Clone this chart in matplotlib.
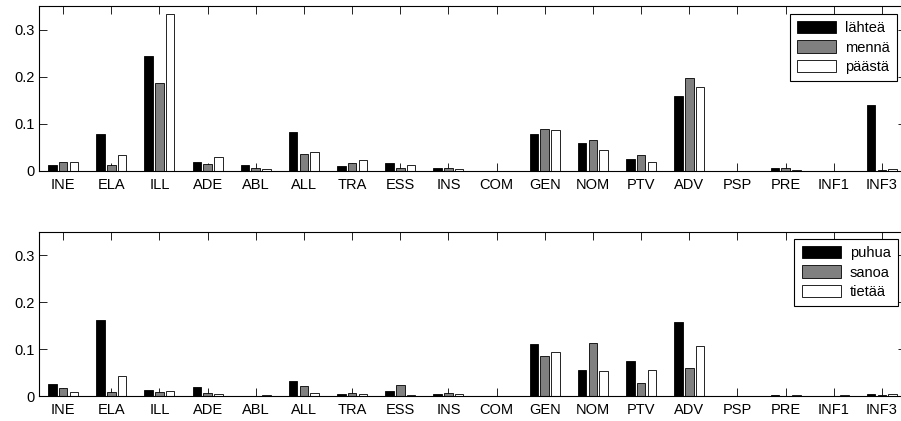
import matplotlib
matplotlib.use("Agg")
import matplotlib.pyplot as plt
import numpy as np

plt.rcParams['font.family'] = ['Liberation Sans', 'DejaVu Sans']
plt.rcParams['font.size'] = 10.5

categories = ["INE", "ELA", "ILL", "ADE", "ABL", "ALL", "TRA", "ESS", "INS",
              "COM", "GEN", "NOM", "PTV", "ADV", "PSP", "PRE", "INF1", "INF3"]
yticks = [0, 0.1, 0.2, 0.3]
ytick_labels = ["0", "0.1", "0.2", "0.3"]

top_labels = ["lähteä", "mennä", "päästä"]
lahtea = [0.012, 0.078, 0.245, 0.019, 0.012, 0.083, 0.010, 0.016, 0.006,
          0.001, 0.078, 0.059, 0.025, 0.160, 0.0006, 0.007, 0.001, 0.141]
menna = [0.019, 0.013, 0.187, 0.015, 0.006, 0.036, 0.018, 0.006, 0.006,
         0.001, 0.089, 0.066, 0.033, 0.197, 0.0006, 0.007, 0.0005, 0.002]
paasta = [0.019, 0.035, 0.334, 0.029, 0.005, 0.040, 0.023, 0.013, 0.004,
          0.001, 0.086, 0.045, 0.020, 0.179, 0.0006, 0.003, 0.001, 0.004]

bottom_labels = ["puhua", "sanoa", "tietää"]
puhua = [0.0255, 0.162, 0.0135, 0.020, 0.0005, 0.033, 0.0035, 0.011, 0.004,
         0.0, 0.111, 0.056, 0.075, 0.158, 0.0, 0.003, 0.0, 0.004]
sanoa = [0.018, 0.008, 0.0085, 0.007, 0.001, 0.021, 0.006, 0.0235, 0.006,
         0.0, 0.0855, 0.113, 0.028, 0.060, 0.0, 0.001, 0.001, 0.002]
tietaa = [0.009, 0.043, 0.010, 0.004, 0.003, 0.006, 0.0035, 0.002, 0.005,
          0.0, 0.093, 0.053, 0.055, 0.107, 0.0005, 0.0015, 0.003, 0.004]

colors = ["#000000", "#808080", "#ffffff"]

W, H = 901, 421
fig = plt.figure(figsize=(W / 100, H / 100), dpi=100)

def px_axes(left, right, top, bottom):
    return fig.add_axes([left / W, 1 - bottom / H, (right - left) / W, (bottom - top) / H])

ax1 = px_axes(39, 906, 6, 171)
ax2 = px_axes(39, 906, 232, 396)

x = np.arange(1, len(categories) + 1)
slot = 2.0 / 9.0
bw = slot * 0.8

def draw(ax, series, labels, legend_anchor):
    for i, (vals, c, lab) in enumerate(zip(series, colors, labels)):
        ax.bar(x + (i - 1) * slot, vals, width=bw, color=c,
               edgecolor="black", linewidth=0.6, label=lab, zorder=2)
    ax.set_xlim(0.5, 18.5)
    ax.set_ylim(0, 0.35)
    ax.set_xticks(x)
    ax.set_xticklabels(categories)
    ax.set_yticks(yticks)
    ax.set_yticklabels(ytick_labels)
    ax.tick_params(axis="both", direction="in", length=6, width=0.7,
                   top=True, right=True, labelsize=10.5, color="#222222")
    ax.tick_params(axis="x", pad=5)
    ax.tick_params(axis="y", pad=3)
    for s in ax.spines.values():
        s.set_linewidth(0.8)
        s.set_color("black")
    leg = ax.legend(loc="upper right", bbox_to_anchor=legend_anchor,
                    bbox_transform=fig.transFigure, fancybox=False,
                    framealpha=1, edgecolor="black", handlelength=2.7,
                    handleheight=0.9, handletextpad=0.6, labelspacing=0.35,
                    borderpad=0.5, borderaxespad=0, fontsize=10.5)
    leg.get_frame().set_linewidth(0.8)

draw(ax1, [lahtea, menna, paasta], top_labels, (897 / W, 1 - 14 / H))
draw(ax2, [puhua, sanoa, tietaa], bottom_labels, (898 / W, 1 - 239 / H))

fig.savefig("out.png", dpi=100)
